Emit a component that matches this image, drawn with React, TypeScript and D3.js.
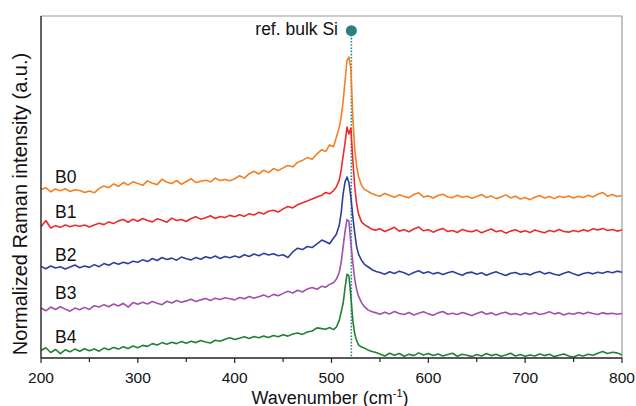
import React from "react";
import * as d3 from "d3";

const wavenumbers = [
  200, 205, 210, 215, 220, 225, 230, 235, 240, 245,
  250, 255, 260, 265, 270, 275, 280, 285, 290, 295,
  300, 305, 310, 315, 320, 325, 330, 335, 340, 345,
  350, 355, 360, 365, 370, 375, 380, 385, 390, 395,
  400, 405, 410, 415, 420, 425, 430, 435, 440, 445,
  450, 455, 460, 465, 470, 475, 480, 485, 490,
  494, 498, 502, 505, 508, 510, 512, 514, 516, 518, 520, 522, 524, 526, 528, 531, 534, 538, 542,
  546,
  550, 555, 560, 565, 570, 575, 580, 585, 590, 595,
  600, 605, 610, 615, 620, 625, 630, 635, 640, 645,
  650, 655, 660, 665, 670, 675, 680, 685, 690, 695,
  700, 705, 710, 715, 720, 725, 730, 735, 740, 745,
  750, 755, 760, 765, 770, 775, 780, 785, 790, 795, 800,
];

const b0 = [
  49.3, 49.8, 48.6, 49.4, 48.9, 49.5, 48.7, 49.2, 49.0, 48.4,
  48.8, 48.3, 49.6, 50.3, 49.8, 50.9, 50.2, 51.3, 50.6, 51.5,
  51.0, 50.5, 51.8, 51.1, 50.7, 52.3, 51.4, 51.0, 51.9, 50.8,
  51.6, 52.4, 51.3, 51.7, 52.0, 51.5, 52.6, 51.9, 52.2, 51.8,
  52.4, 53.3, 52.6, 53.9, 54.6, 53.8, 54.9, 54.2, 55.4, 54.8,
  55.6, 56.3, 55.9, 57.2, 57.8, 58.6, 58.1, 59.7, 60.9,
  60.4, 62.3, 61.8, 64.5, 67.5, 70.5, 75.0, 81.0, 87.0, 88.0, 84.5, 70.5, 61.0, 56.0, 53.0, 50.5, 49.3, 48.7, 48.0,
  47.6,
  47.3, 48.1, 47.5, 47.0, 47.7, 47.2, 46.9, 47.8, 48.3, 47.1,
  47.4, 46.8, 47.5, 47.9, 47.1, 46.9, 47.6, 47.0, 47.3, 46.7,
  47.2, 47.8, 46.9, 47.4, 46.6, 47.1, 47.7, 46.8, 47.3, 46.5,
  46.9, 46.3, 47.0, 47.5, 46.8, 47.2, 46.6, 47.3, 46.9, 47.4,
  46.8, 47.3, 46.9, 47.6, 47.1, 47.9, 48.4, 47.3, 47.8, 47.2, 47.5,
];

const b1 = [
  38.4, 40.2, 38.0, 38.7, 38.2, 38.9, 38.4, 38.8, 38.5, 38.9,
  38.3, 38.9, 39.4, 39.0, 39.8, 39.3, 40.1, 40.5, 39.7, 40.6,
  40.0, 40.8, 40.2, 39.8, 40.7, 40.3, 39.7, 40.9, 40.2, 40.5,
  39.9, 40.8, 41.3, 40.6, 41.0, 41.6, 40.8, 41.4, 41.1, 41.7,
  41.3, 41.9, 41.4, 42.2, 41.8, 42.6, 42.1, 42.9, 43.2, 42.7,
  43.6, 44.3, 43.9, 44.8, 45.4, 45.9, 46.5, 47.1, 47.6,
  48.4, 48.0, 48.9, 50.0, 52.0, 55.0, 59.0, 63.0, 67.5, 65.5, 67.2, 58.0, 50.0, 45.0, 42.0, 39.8, 39.0, 38.3, 37.6,
  37.4,
  37.8, 37.0, 37.6, 38.2, 37.1, 37.5, 36.9, 37.7, 38.3, 37.2,
  37.5, 36.8, 37.4, 37.9, 37.0, 37.3, 36.7, 37.6, 37.1, 36.9,
  37.4, 36.6, 37.2, 37.7, 36.9, 37.3, 36.5, 37.1, 37.5, 36.8,
  37.2, 36.7, 37.4, 37.0, 36.6, 37.3, 36.9, 37.6, 37.0, 36.8,
  37.3, 36.9, 37.5, 37.1, 37.8, 37.4, 37.9, 37.3, 37.6, 37.1, 37.4,
];

const b2 = [
  26.8, 26.1, 26.9, 26.3, 26.7, 26.0, 26.6, 27.2, 26.4, 26.9,
  26.5, 27.3, 26.7, 27.6, 27.1, 27.9, 27.4, 28.0, 27.6, 28.3,
  28.0, 28.7, 28.2, 29.1, 28.5, 29.4, 28.8, 29.2, 28.6, 29.5,
  29.0, 28.7, 29.4, 28.9, 29.6, 29.2, 29.8, 29.1, 29.7, 29.3,
  29.8, 29.4, 30.2, 29.7, 30.4, 29.9, 30.6, 30.1, 30.5, 29.9,
  30.2, 29.4, 31.0, 32.1, 31.7, 32.6, 32.3, 33.4, 34.5,
  34.0, 33.4, 35.0, 36.2, 38.8, 42.5, 48.0, 51.5, 52.9, 51.3, 47.0, 41.5, 36.5, 32.5, 30.3, 28.6, 27.4, 26.6, 25.8,
  25.3,
  25.0, 24.5, 25.2, 24.7, 25.4, 24.9, 24.3, 25.0, 25.5, 24.8,
  25.2, 24.6, 25.0, 24.4, 24.9, 25.3, 24.7, 24.2, 24.9, 25.1,
  24.5, 24.9, 24.2, 24.8, 25.2, 24.6, 24.1, 24.8, 25.0, 24.4,
  24.7, 24.3, 24.9, 25.3, 24.6, 25.0, 24.5, 24.2, 24.8, 25.2,
  24.6, 24.1, 24.7, 25.0, 24.6, 25.1, 24.8, 25.3, 24.9, 25.4, 25.1,
];

const b3 = [
  14.6, 13.8, 14.9, 14.2, 15.0, 14.3, 13.7, 14.6, 14.1, 14.8,
  14.2, 15.3, 14.9, 15.6, 15.0, 15.8, 15.2, 16.0, 14.9, 16.2,
  15.7, 16.3, 15.8, 16.5, 16.0, 15.6, 16.6, 16.1, 16.8, 16.3,
  16.7, 17.2, 16.5, 17.0, 17.4, 16.8, 17.5, 17.1, 17.6, 17.3,
  17.0, 17.7, 17.3, 18.0, 17.5, 17.9, 18.4, 17.8, 18.6, 18.2,
  18.9, 19.5, 19.0, 19.8, 19.3, 20.2, 20.6, 20.1, 21.0,
  20.7, 21.5, 22.0, 23.0, 25.0, 28.0, 32.5, 37.0, 40.5, 40.0, 33.5, 28.0, 23.0, 20.0, 18.0, 16.2, 15.0, 14.0, 13.5,
  13.2,
  12.8, 13.4, 12.9, 13.6, 13.0, 12.7, 13.3, 12.6, 13.1, 13.5,
  12.9, 12.5, 13.2, 13.6, 12.8, 13.1, 12.7, 13.3, 12.9, 12.4,
  13.0, 13.5, 12.8, 13.2, 12.6, 13.1, 13.4, 12.7, 13.0, 12.6,
  13.2, 12.8, 13.3, 12.7, 13.0, 13.5, 12.9, 13.2, 12.6, 13.1,
  12.8, 13.3, 12.9, 13.4, 13.0, 12.7, 13.2, 12.9, 13.1, 12.8, 13.0,
];

const b4 = [
  2.2, 3.0, 1.6, 2.5, 1.3, 2.4, 1.8, 2.6, 2.0, 2.7,
  2.1, 2.6, 2.0, 2.9, 2.4, 3.1, 2.6, 3.3, 2.8, 3.5,
  3.0, 3.7, 3.4, 4.2, 3.8, 4.5, 4.0, 4.6, 4.2, 4.8,
  4.3, 4.9, 4.5, 5.1, 4.7, 4.4, 5.2, 4.9, 5.5, 5.9,
  5.4, 5.8, 6.2, 5.7, 6.3, 5.9, 6.4, 6.0, 6.6, 6.2,
  6.8, 6.4, 7.0, 7.3, 6.9, 7.6, 7.9, 8.8, 8.6,
  8.4, 8.9, 8.3, 9.0, 11.0, 13.5, 16.0, 20.5, 24.5, 24.0, 18.0, 11.0, 7.0, 5.0, 3.8, 3.2, 2.9, 2.3, 1.9,
  1.6,
  1.2, 0.6, 1.4, 0.8, 1.3, 0.5, 1.1, 0.7, 1.5, 0.9,
  1.3, 0.7, 1.2, 0.6, 1.0, 1.4, 0.5, 1.1, 0.8, 0.4,
  1.0, 0.6, 1.3, 0.7, 1.1, 0.5, 0.9, 1.4, 0.6, 1.0,
  0.5, 0.9, 0.6, 1.2, 0.7, 1.1, 0.4, 0.8, 1.2, 0.6,
  0.3, 0.9, 0.6, 1.1, 0.8, 1.4, 1.9, 1.3, 1.7, 1.5, 0.9,
];

const seriesNames = ["B0", "B1", "B2", "B3", "B4"];
const seriesValues = [b0, b1, b2, b3, b4];
const seriesColors = ["#f47f22", "#ee2a2d", "#2f3f9c", "#a24fab", "#218033"];
const labelBaselines = [183, 218, 261, 299, 343];

const xTicks = [200, 300, 400, 500, 600, 700, 800];
const xMinorTicks = [250, 350, 450, 550, 650, 750];
const refBulkSi = 520.5;

const W = 636;
const H = 406;
const left = 41;
const right = 622;
const top = 16;
const bottom = 358;
const FONT = "Liberation Sans, Arial, Helvetica, sans-serif";

export default function App() {
  const x = d3.scaleLinear().domain([200, 800]).range([left, right]);
  const y = d3.scaleLinear().domain([0, 100]).range([bottom, top]);
  const line = d3
    .line<number>()
    .x((_, i) => x(wavenumbers[i]))
    .y((d) => y(d));

  return (
    <svg
      width={W}
      height={H}
      style={{ position: "absolute", left: 0, top: 0, background: "#fff" }}
      fontFamily={FONT}
    >
      <rect x={0} y={0} width={W} height={H} fill="#fff" />
      {/* frame */}
      <line x1={left} x2={right} y1={top} y2={top} stroke="#9a9a9a" strokeWidth={1.2} />
      <line x1={right} x2={right} y1={top} y2={bottom} stroke="#9a9a9a" strokeWidth={1.2} />

      {/* reference line */}
      <line
        x1={x(refBulkSi)}
        x2={x(refBulkSi)}
        y1={y(95.5)}
        y2={bottom}
        stroke="#2a7f80"
        strokeWidth={1.6}
        strokeDasharray="1.6,1.6"
      />

      {seriesValues.map((vals, i) => (
        <path
          key={seriesNames[i]}
          d={line(vals) || ""}
          fill="none"
          stroke={seriesColors[i]}
          strokeWidth={1.6}
          strokeLinejoin="round"
        />
      ))}

      <circle cx={x(refBulkSi)} cy={y(95.7)} r={5.5} fill="#2b7f80" />
      <text x={338} y={35} fontSize={17.5} textAnchor="end" fill="#111">
        ref. bulk Si
      </text>

      {seriesNames.map((n, i) => (
        <text key={n} x={55} y={labelBaselines[i]} fontSize={17.5} fill="#111">
          {n}
        </text>
      ))}

      {/* axes */}
      <line x1={left} x2={left} y1={top} y2={bottom} stroke="#222" strokeWidth={1.4} />
      <line x1={left} x2={right} y1={bottom} y2={bottom} stroke="#222" strokeWidth={1.4} />
      {xTicks.map((t) => (
        <g key={t}>
          <line x1={x(t)} x2={x(t)} y1={bottom} y2={bottom + 5} stroke="#222" strokeWidth={1.2} />
          <text x={x(t)} y={383} fontSize={15.5} textAnchor="middle" fill="#111">
            {t}
          </text>
        </g>
      ))}
      {xMinorTicks.map((t) => (
        <line key={t} x1={x(t)} x2={x(t)} y1={bottom} y2={bottom + 4} stroke="#222" strokeWidth={1.2} />
      ))}

      <text x={330} y={403.5} fontSize={18} textAnchor="middle" fill="#111">
        Wavenumber (cm
        <tspan dy={-7} fontSize={11}>-1</tspan>
        <tspan dy={7}>)</tspan>
      </text>
      <text
        transform={`translate(27, 204) rotate(-90)`}
        fontSize={20}
        textAnchor="middle"
        fill="#111"
      >
        Normalized Raman intensity (a.u.)
      </text>
    </svg>
  );
}
